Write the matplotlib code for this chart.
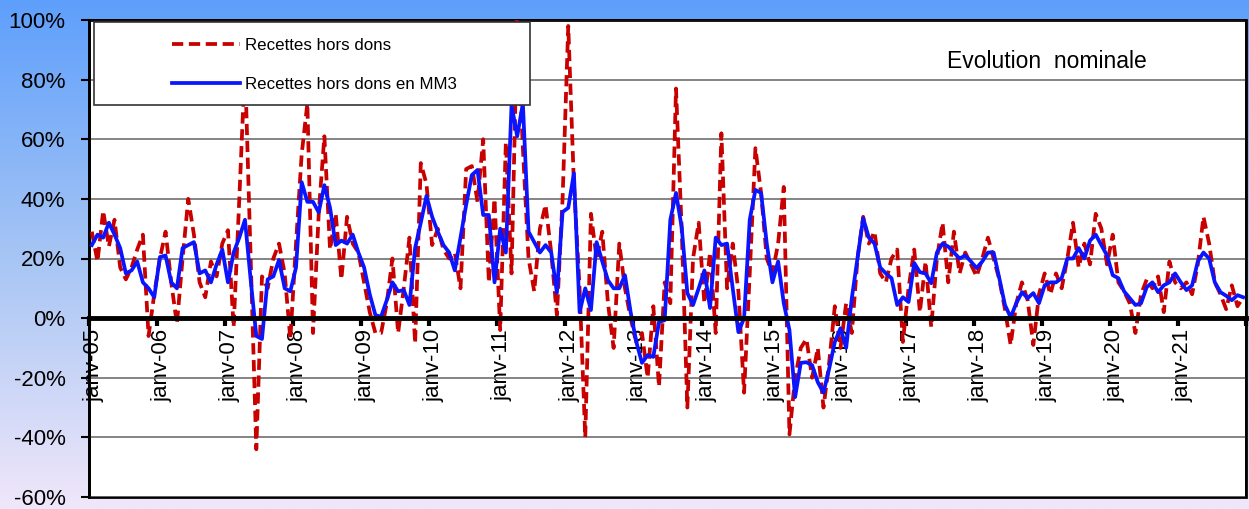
import numpy as np
import matplotlib
matplotlib.use('Agg')
import matplotlib.pyplot as plt
import matplotlib.transforms as mtransforms
from matplotlib.patches import Rectangle
from matplotlib.colors import LinearSegmentedColormap

plt.rcParams['font.family'] = ['Liberation Sans', 'DejaVu Sans']

# tick labels (one per january, 2005 -> 2021)
years = list(range(5, 22))
tick_labels = ['janv-%02d' % y for y in years]

# Recettes hors dons, glissement annuel mensuel (%), janv-05 -> dec-21
recettes = [
    29, 19, 36, 24, 33, 17, 13, 17, 23, 28, -6, 8,          # 2005
    20, 29, 12, -2, 20, 40, 28, 12, 7, 19, 14, 25,          # 2006
    29.5, -3, 40, 85, 20, -44, 14, 10, 20, 25, 15, -7,      # 2007
    25, 55, 72, -5, 35, 61, 23, 35, 13, 34, 25, 22,         # 2008
    12, 2, -5, -5, 5, 20, -5, 10, 27, -8.5, 52, 45,         # 2009
    24.5, 30, 23, 20, 22, 10, 50, 51, 39, 60, 12, 40,       # 2010
    -4, 59, 15, 100, 57, 20, 9, 30, 38, 22, 1, 40,          # 2011
    98, 45, 10, -40, 35, 20, 29, 5, -10, 25, 10, 0,         # 2012
    -8, -5, -20, 4, -23, 12, 5, 77, 30, -30, 20, 32,        # 2013
    5, 22, -5, 62, 10, 25, 9, -25, 15, 57, 42, 20,          # 2014
    15, 25, 44, -39, -20, -10, -7, -20, -10, -30, -15, 4,   # 2015
    -10, 5, -5, 20, 34, 25, 29, 15, 12, 20, 23, -8,         # 2016
    10, 23, 2, 19, -3, 20, 32, 12, 29, 15, 22, 18,          # 2017
    14, 20, 27, 20, 13, 3, -9, 5, 12, 6, -9, 8,             # 2018
    15, 8, 15, 10, 20, 32, 17, 25, 18, 35, 30, 18,          # 2019
    28, 12, 9, 5, -5, 8, 13, 10, 14, 2, 19, 12,             # 2020
    10, 12, 8, 18, 34, 25, 12, 8, 3, 11, 4, 7,              # 2021
]

# Recettes hors dons en MM3 (%)
recettes_mm3 = [
    24.5, 28, 27, 32, 28, 23.5, 15, 16, 19, 12, 10, 7,        # 2005
    20.5, 21, 12, 10, 23.5, 24.5, 25.5, 15, 16, 12, 18, 23,   # 2006
    12, 22, 27, 33, 13, -6, -7, 13, 14, 19.5, 10, 9,          # 2007
    17, 45.6, 39, 39, 35.5, 44.6, 37, 24.5, 26, 25, 28, 22,   # 2008
    17, 8, 1, 0.5, 6, 12, 9, 9.4, 4.4, 23.5, 32, 41,          # 2009
    34, 29, 24.5, 22, 16, 27, 38, 48, 49.7, 34.6, 34.6, 12,   # 2010
    30, 22, 71.5, 61, 72, 29, 25.5, 22, 24.5, 22, 8.5, 35.6,  # 2011
    37, 48.6, 2, 10, 2.7, 25.5, 19, 12.7, 10, 10, 14.4, 2,    # 2012
    -8, -15, -12.4, -13, -1.3, -0.7, 33, 42, 30.5, 8.4, 4.4, 10,  # 2013
    16, 3.4, 27, 24.5, 25, 10, -4.7, 0, 33, 43, 42, 25,       # 2014
    12, 19, 5, -4, -26.5, -15, -14.8, -15.8, -21.5, -25, -17, -8,  # 2015
    -3.4, -10, 6.7, 20, 33.5, 27, 25, 17, 15, 13.4, 4.4, 7,   # 2016
    5.4, 18.5, 15.4, 15, 11.7, 22, 25, 24, 22, 20, 21, 19,    # 2017
    16.8, 19, 22, 22, 13.4, 4.4, 0.3, 5, 8.7, 6.7, 8.4, 5,    # 2018
    11, 12, 12, 13.4, 20, 20, 23.5, 20, 26, 28, 24.5, 21,     # 2019
    14.4, 13.4, 9, 6.7, 4.4, 5, 10.4, 12, 8.7, 11, 12, 15,    # 2020
    12, 9.4, 11, 19, 22, 20, 12, 8.7, 7.5, 6, 7.7, 7,         # 2021
]

months = np.arange(len(recettes))

fig = plt.figure(figsize=(12.49, 5.09), dpi=100)

# fond degrade bleu -> lavande
bg = fig.add_axes([0, 0, 1, 1])
grad = np.linspace(0, 1, 256).reshape(-1, 1)
cmap = LinearSegmentedColormap.from_list('fond', ['#5e9ffc', '#a6c5f4', '#f0e7fa'])
bg.imshow(grad, aspect='auto', cmap=cmap, extent=[0, 1, 0, 1])
bg.axis('off')

ax = fig.add_axes([89 / 1249, 1 - 497 / 509, 1157 / 1249, 477 / 509])
ax.set_facecolor('white')

ax.plot(months, recettes, color='#c80000', lw=2.7, dashes=(3, 1.5), zorder=3,
        label='Recettes hors dons')
ax.plot(months, recettes_mm3, color='#0a14ff', lw=2.7, zorder=4,
        label='Recettes hors dons en MM3')

ax.set_ylim(-60, 100)
ax.set_xlim(-0.5, len(recettes) - 0.5)
ax.set_yticks(np.arange(-60, 101, 20))
ax.set_yticklabels(['%d%%' % v for v in np.arange(-60, 101, 20)], fontsize=16)
ax.yaxis.grid(True, color='#707070', lw=1.2)
ax.set_axisbelow(True)

# axe des categories a 0
ax.spines['bottom'].set_position(('data', 0))
ax.spines['bottom'].set_linewidth(3.5)
ax.spines['bottom'].set_zorder(5)
ax.spines['left'].set_linewidth(2)
ax.spines['top'].set_linewidth(1.2)
ax.spines['right'].set_linewidth(1.2)
ax.patch.set_edgecolor('black')
ax.patch.set_linewidth(2)

xt = np.arange(0, len(recettes) + 1, 12) - 0.5
ax.set_xticks(xt)
ax.set_xticklabels(tick_labels + [''], rotation=90, fontsize=16, va='top')
ax.tick_params(axis='x', direction='out', length=6, width=3, pad=2)
ax.tick_params(axis='y', direction='out', length=6, width=1.5, pad=11)
shift = mtransforms.ScaledTranslation(5 / 100, 0, fig.dpi_scale_trans)
for lab in ax.get_xticklabels():
    lab.set_transform(lab.get_transform() + shift)

# legende
ax.add_patch(Rectangle((0.004, 0.822), 0.377, 0.174, transform=ax.transAxes,
                       facecolor='white', edgecolor='#333333', lw=1.2, zorder=6))
leg = ax.legend(loc='upper left', bbox_to_anchor=(0.072, 0.963), frameon=False,
                fontsize=12.2, handlelength=4.0, handletextpad=0.3, labelspacing=1.45,
                borderpad=0, borderaxespad=0)
leg.set_zorder(7)

ax.text(0.914, 0.913, 'Evolution  nominale', transform=ax.transAxes, fontsize=16.5,
        ha='right', va='center', zorder=7)

fig.savefig('out.png', dpi=100)
